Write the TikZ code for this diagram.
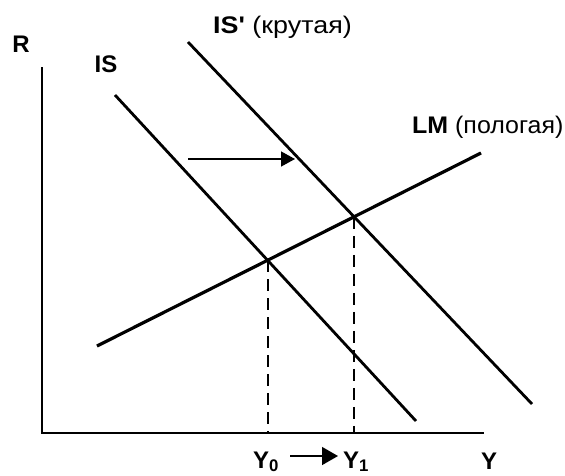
\documentclass[tikz,border=0pt]{standalone}
\usepackage{fontspec}
\setmainfont{Liberation Sans}[Ligatures=TeXOff]
\usetikzlibrary{arrows.meta}
\begin{document}
\begin{tikzpicture}[x=1pt,y=-1pt,
  curve/.style={line width=2.8pt},
  axis/.style={line width=1.8pt},
  guide/.style={line width=2pt,dash pattern=on 12pt off 7pt},
  lbl/.style={inner sep=0pt,font=\fontsize{24}{26}\selectfont},
  blbl/.style={lbl,font=\fontsize{24}{26}\selectfont\bfseries},
  shiftarrow/.style={line width=1.4pt,-{Triangle[length=14pt,width=15pt]}}]
\useasboundingbox (0,0) rectangle (565,475);
% axes
\coordinate (O) at (42,433);
\coordinate (Rtop) at (42,67);
\coordinate (Yend) at (484,433);
\draw[axis] (Rtop) -- (O) -- (Yend);
% curves
\coordinate (IS1) at (115,95);
\coordinate (IS2) at (416,421);
\coordinate (ISp1) at (188,42);
\coordinate (ISp2) at (532,404);
\coordinate (LM1) at (97,346);
\coordinate (LM2) at (481,153);
\draw[curve] (IS1) -- (IS2);
\draw[curve] (ISp1) -- (ISp2);
\draw[curve,line width=3.2pt] (LM1) -- (LM2);
% equilibria
\coordinate (E0) at (intersection of IS1--IS2 and LM1--LM2);
\coordinate (E1) at (intersection of ISp1--ISp2 and LM1--LM2);
\draw[guide] (E0) -- (E0 |- O);
\draw[guide] (E1) -- (E1 |- O);
% shift arrow
\coordinate (SA) at (188,159);
\coordinate (SB) at (295,159);
\draw[shiftarrow] (SA) -- (SB);
% labels
\node[blbl] (R) at (21,44) {R};
\node[blbl] (IS) at (106,64) {IS};
\node[lbl,anchor=base west,xscale=1.12] (ISp) at (213,33) {\textbf{IS'} (крутая)};
\node[lbl,anchor=base west,xscale=1.04] (LM) at (412,133) {\textbf{LM} (пологая)};
\node[blbl,anchor=base west] (Y0) at (253,468) {Y\textsubscript{0}};
\node[blbl,anchor=base west] (Y1) at (343,468) {Y\textsubscript{1}};
\node[blbl,anchor=base west] (Y) at (481,469) {Y};
\coordinate (YA) at (290,456);
\coordinate (YB) at (338,456);
\draw[line width=1.4pt,-{Triangle[length=16pt,width=18pt]}] (YA) -- (YB);
\end{tikzpicture}
\end{document}
